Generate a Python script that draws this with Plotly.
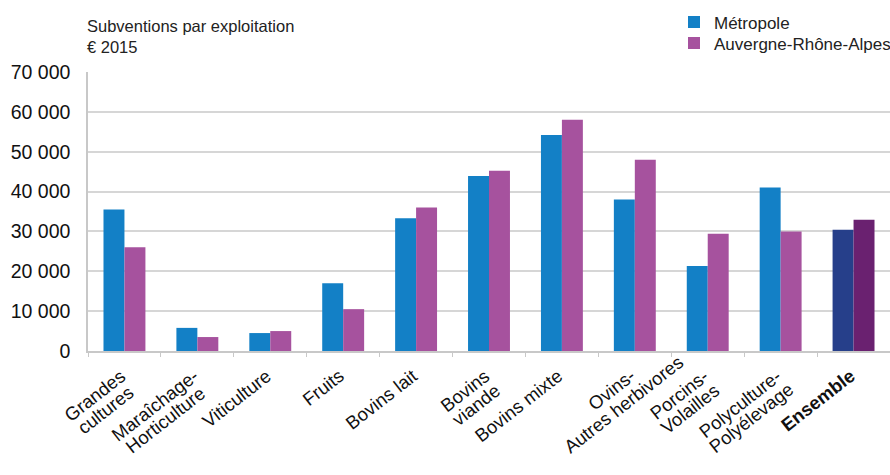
import math
import plotly.graph_objects as go

categories = [
    "Grandes<br>cultures",
    "Maraîchage-<br>Horticulture",
    "Viticulture",
    "Fruits",
    "Bovins lait",
    "Bovins<br>viande",
    "Bovins mixte",
    "Ovins-<br>Autres herbivores",
    "Porcins-<br>Volailles",
    "Polyculture-<br>Polyélevage",
    "<b>Ensemble</b>",
]
metropole = [35500, 5800, 4500, 17000, 33300, 43900, 54200, 38000, 21300, 41000, 30400]
auvergne = [26000, 3500, 5000, 10500, 36000, 45200, 58000, 48000, 29400, 30000, 32900]
series_names = ["Métropole", "Auvergne-Rhône-Alpes"]
y_ticks = [0, 10000, 20000, 30000, 40000, 50000, 60000, 70000]

blue, blue_dark = "#1380c6", "#263f8a"
purple, purple_dark = "#a6529e", "#6a2170"

W, H = 890, 475
ML, MR, MT, MB = 88, 0, 72, 124

n = len(categories)
fig = go.Figure()
fig.add_trace(go.Bar(
    x=categories, y=metropole, name=series_names[0], legend="legend",
    marker=dict(color=[blue] * (n - 1) + [blue_dark], line=dict(width=0)),
))
fig.add_trace(go.Bar(
    x=categories, y=auvergne, name=series_names[1], legend="legend2",
    marker=dict(color=[purple] * (n - 1) + [purple_dark], line=dict(width=0)),
))

# --- rotated, centre-aligned category labels (as annotations) ---
ARIAL = {
    'a': 556, 'b': 556, 'c': 500, 'd': 556, 'e': 556, 'f': 278, 'g': 556, 'h': 556,
    'i': 222, 'l': 222, 'm': 833, 'n': 556, 'o': 556, 'p': 556, 'r': 333, 's': 500,
    't': 278, 'u': 556, 'v': 500, 'x': 500, 'y': 500, ' ': 278, '-': 333, 'é': 556,
    'î': 278, 'ô': 556, 'A': 667, 'B': 667, 'E': 667, 'F': 611, 'G': 778, 'H': 722,
    'M': 833, 'O': 778, 'P': 667, 'V': 667,
}
ARIAL_BOLD = {'E': 667, 'n': 611, 's': 556, 'e': 556, 'm': 889, 'b': 611, 'l': 278}


def text_width(t, size):
    bold = t.startswith("<b>")
    t = t.replace("<b>", "").replace("</b>", "")
    table = ARIAL_BOLD if bold else ARIAL
    return sum(table.get(ch, ARIAL.get(ch, 556)) for ch in t) / 1000 * size


lab_size = 18.5
angle = 38
ls = 18.5
ca, sa = math.cos(math.radians(angle)), math.sin(math.radians(angle))
u = (ca, -sa)      # along baseline (screen coords, y down)
v = (sa, ca)       # perpendicular, downward
cap_mid = 0.36 * lab_size
end_dx, end_dy = -6, 17   # first line end (top) relative to category centre / axis

annotations = []
for cat in categories:
    lines = cat.split("<br>")
    w1 = text_width(lines[0], lab_size)
    mx, my = end_dx + cap_mid * v[0], end_dy + cap_mid * v[1]
    c1x, c1y = mx - w1 / 2 * u[0], my - w1 / 2 * u[1]
    for j, line in enumerate(lines):
        px, py = c1x + j * ls * v[0], c1y + j * ls * v[1]
        annotations.append(dict(
            text=line, xref="x", yref="paper", x=cat, y=0,
            xshift=px, yshift=-py, xanchor="center", yanchor="middle",
            textangle=-angle, showarrow=False,
            font=dict(size=lab_size, color="#111"),
        ))

annotations.append(dict(
    text="Subventions par exploitation<br>€ 2015",
    xref="paper", yref="paper", x=0, y=1, xshift=-3, yshift=57,
    xanchor="left", yanchor="top", align="left", showarrow=False,
    font=dict(size=16.5, color="#222"),
))

leg_common = dict(
    xref="container", yref="container", xanchor="left", yanchor="middle",
    font=dict(size=17, color="#222"), bgcolor="rgba(0,0,0,0)",
)

fig.update_layout(
    width=W, height=H,
    margin=dict(l=ML, r=MR, t=MT, b=MB, autoexpand=False),
    paper_bgcolor="white", plot_bgcolor="white",
    font=dict(family="Liberation Sans, Arial, sans-serif", color="#111"),
    barmode="group", bargap=0.425, bargroupgap=0,
    separators=", ",
    showlegend=True,
    legend=dict(x=674 / W, y=1 - 22.5 / H, **leg_common),
    legend2=dict(x=674 / W, y=1 - 43.5 / H, **leg_common),
    annotations=annotations,
)
fig.update_yaxes(
    range=[0, 70000], tickvals=y_ticks, tickformat=",d",
    showgrid=True, gridcolor="#d6d6d6", gridwidth=1.5,
    showline=True, linecolor="#c8c8c8", linewidth=1.5,
    zeroline=False, ticks="", tickfont=dict(size=19.5, color="#111"),
    ticklabelstandoff=12,
)
fig.update_xaxes(
    range=[-0.5, n - 0.5], autorange=False,
    showticklabels=False,
    showline=True, linecolor="#c8c8c8", linewidth=1.5,
    ticks="outside", tickson="boundaries", ticklen=4, tickcolor="#c8c8c8",
    showgrid=False,
)

fig.write_html("out.html")
